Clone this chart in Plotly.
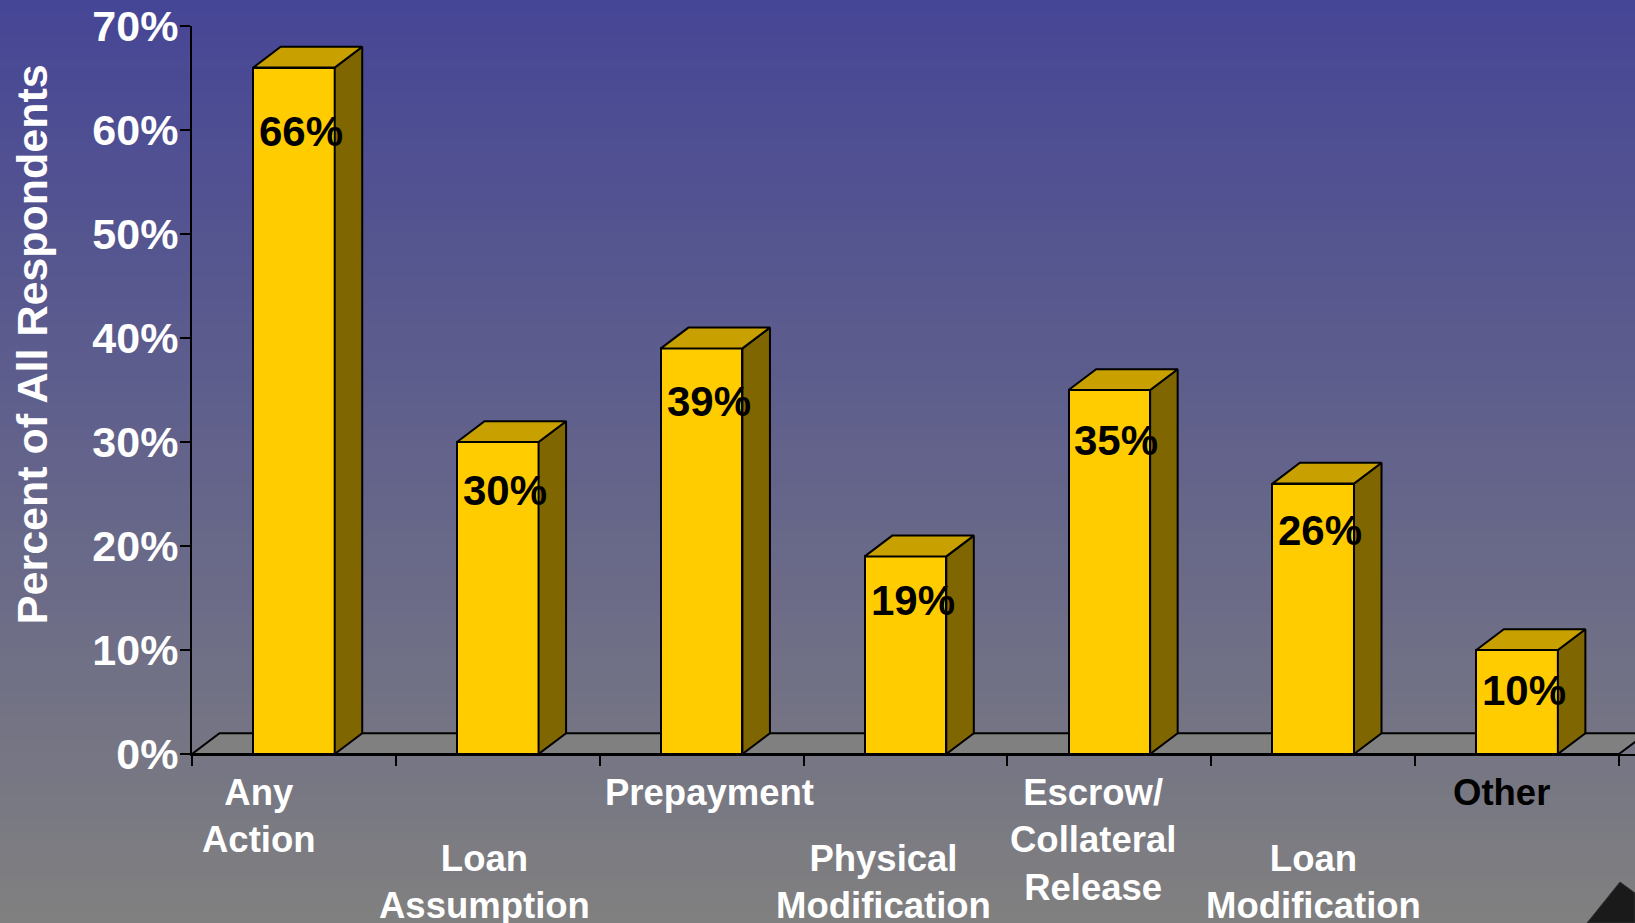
import plotly.graph_objects as go

# ---- data ----
categories = ["Any<br>Action", "Loan<br>Assumption", "Prepayment", "Physical<br>Modification",
              "Escrow/<br>Collateral<br>Release", "Loan<br>Modification", "Other"]
values = [66, 30, 39, 19, 35, 26, 10]
y_ticks = [0, 10, 20, 30, 40, 50, 60, 70]
y_title = "Percent of All Respondents"

# ---- style ----
FONT = "Liberation Sans, Arial, sans-serif"
FRONT = "#FFCC00"
TOP = "#C8A000"
SIDE = "#806600"
FLOOR = "#808080"
BAR_W = 0.4
DX = 0.135      # depth offset in category units
DY = 2.0        # depth offset in percent units
label_row = [0, 1, 0, 1, 0, 1, 0]           # staggered label rows
label_xshift = [-35, -13, 8, -22, -16, 0, -16]
label_color = ["white"] * 6 + ["black"]

n = len(categories)
idx = list(range(n))

fig = go.Figure()

# background gradient (paper-level bands)
top_rgb = (70, 70, 150)
bot_rgb = (128, 128, 128)
nb = 80
y_lo, y_hi = -169 / 728, 1 + 26 / 728
shapes = []
for k in range(nb):
    t = k / (nb - 1)
    c = tuple(round(top_rgb[j] + (bot_rgb[j] - top_rgb[j]) * t) for j in range(3))
    y1 = y_hi - (y_hi - y_lo) * k / nb
    y0 = y_hi - (y_hi - y_lo) * (k + 1) / nb - 0.003
    shapes.append(dict(type="rect", xref="paper", yref="paper", x0=-0.2, x1=1.1,
                       y0=y0, y1=y1, fillcolor="rgb(%d,%d,%d)" % c,
                       line=dict(width=0), layer="below"))

# floor
x_left, x_right = -0.5, n - 0.5
shapes.append(dict(type="path", xref="x", yref="y", layer="below",
                   path=f"M {x_left},0 L {x_right},0 L {x_right+DX},{DY} L {x_left+DX},{DY} Z",
                   fillcolor=FLOOR, line=dict(color="black", width=2)))

# decorative dark picture fragment in the bottom-right corner
def px(xp):
    return (xp - 192) / 1443

def py(yp):
    return (754 - yp) / 728

shapes.append(dict(type="path", xref="paper", yref="paper", layer="above",
                   path=f"M {px(1587)},{py(923)} L {px(1620)},{py(882)} L {px(1635)},{py(893)} "
                        f"L {px(1635)},{py(923)} Z",
                   fillcolor="#1a1a1a", line=dict(color="#333333", width=1)))

# front faces
fig.add_trace(go.Bar(x=idx, y=values, width=BAR_W, marker=dict(color=FRONT,
                     line=dict(color="black", width=2)), hoverinfo="skip", showlegend=False))

# side + top faces
for i, v in zip(idx, values):
    x0, x1 = i - BAR_W / 2, i + BAR_W / 2
    fig.add_trace(go.Scatter(x=[x1, x1 + DX, x1 + DX, x1, x1], y=[0, DY, v + DY, v, 0],
                             fill="toself", fillcolor=SIDE, mode="lines",
                             line=dict(color="black", width=2), hoverinfo="skip", showlegend=False))
    fig.add_trace(go.Scatter(x=[x0, x1, x1 + DX, x0 + DX, x0], y=[v, v, v + DY, v + DY, v],
                             fill="toself", fillcolor=TOP, mode="lines",
                             line=dict(color="black", width=2), hoverinfo="skip", showlegend=False))

annotations = []
# value labels
for i, v in zip(idx, values):
    annotations.append(dict(x=i, y=v * 0.96 - 3.5, xref="x", yref="y", text=f"{v}%",
                            showarrow=False, xshift=7, yanchor="middle", xanchor="center",
                            font=dict(family=FONT, size=42, color="black", weight="bold")))
# category labels
for i, c in enumerate(categories):
    annotations.append(dict(x=i, y=0, xref="x", yref="paper", text=c, showarrow=False,
                            xanchor="center", yanchor="top", align="center",
                            xshift=label_xshift[i], yshift=-16 - 66 * label_row[i],
                            font=dict(family=FONT, size=36.5, color=label_color[i], weight="bold")))
# y title
annotations.append(dict(x=-160 / 1443, y=0.563, xref="paper", yref="paper", text=y_title,
                        textangle=-90, showarrow=False, xanchor="center", yanchor="middle",
                        font=dict(family=FONT, size=43, color="white", weight="bold")))

fig.update_layout(
    width=1635, height=923,
    margin=dict(l=192, r=0, t=26, b=169),
    paper_bgcolor="#808080", plot_bgcolor="rgba(0,0,0,0)",
    shapes=shapes, annotations=annotations, showlegend=False, bargap=0,
    xaxis=dict(range=[x_left, x_right + 16 / 204], tickvals=[i - 0.5 for i in range(n + 1)],
               showticklabels=False, ticks="outside", ticklen=10, tickwidth=2, tickcolor="black",
               showgrid=False, zeroline=False, showline=True, linecolor="black", linewidth=2,
               fixedrange=True),
    yaxis=dict(range=[0, 70], tickvals=y_ticks, ticktext=[f"{t}%" for t in y_ticks],
               ticks="outside", ticklen=10, tickwidth=2, tickcolor="black",
               showline=True, linecolor="black", linewidth=2, showgrid=False, zeroline=False,
               tickfont=dict(family=FONT, size=43, color="white", weight="bold"),
               ticklabelstandoff=-7, fixedrange=True),
)

fig.write_html("out.html")
